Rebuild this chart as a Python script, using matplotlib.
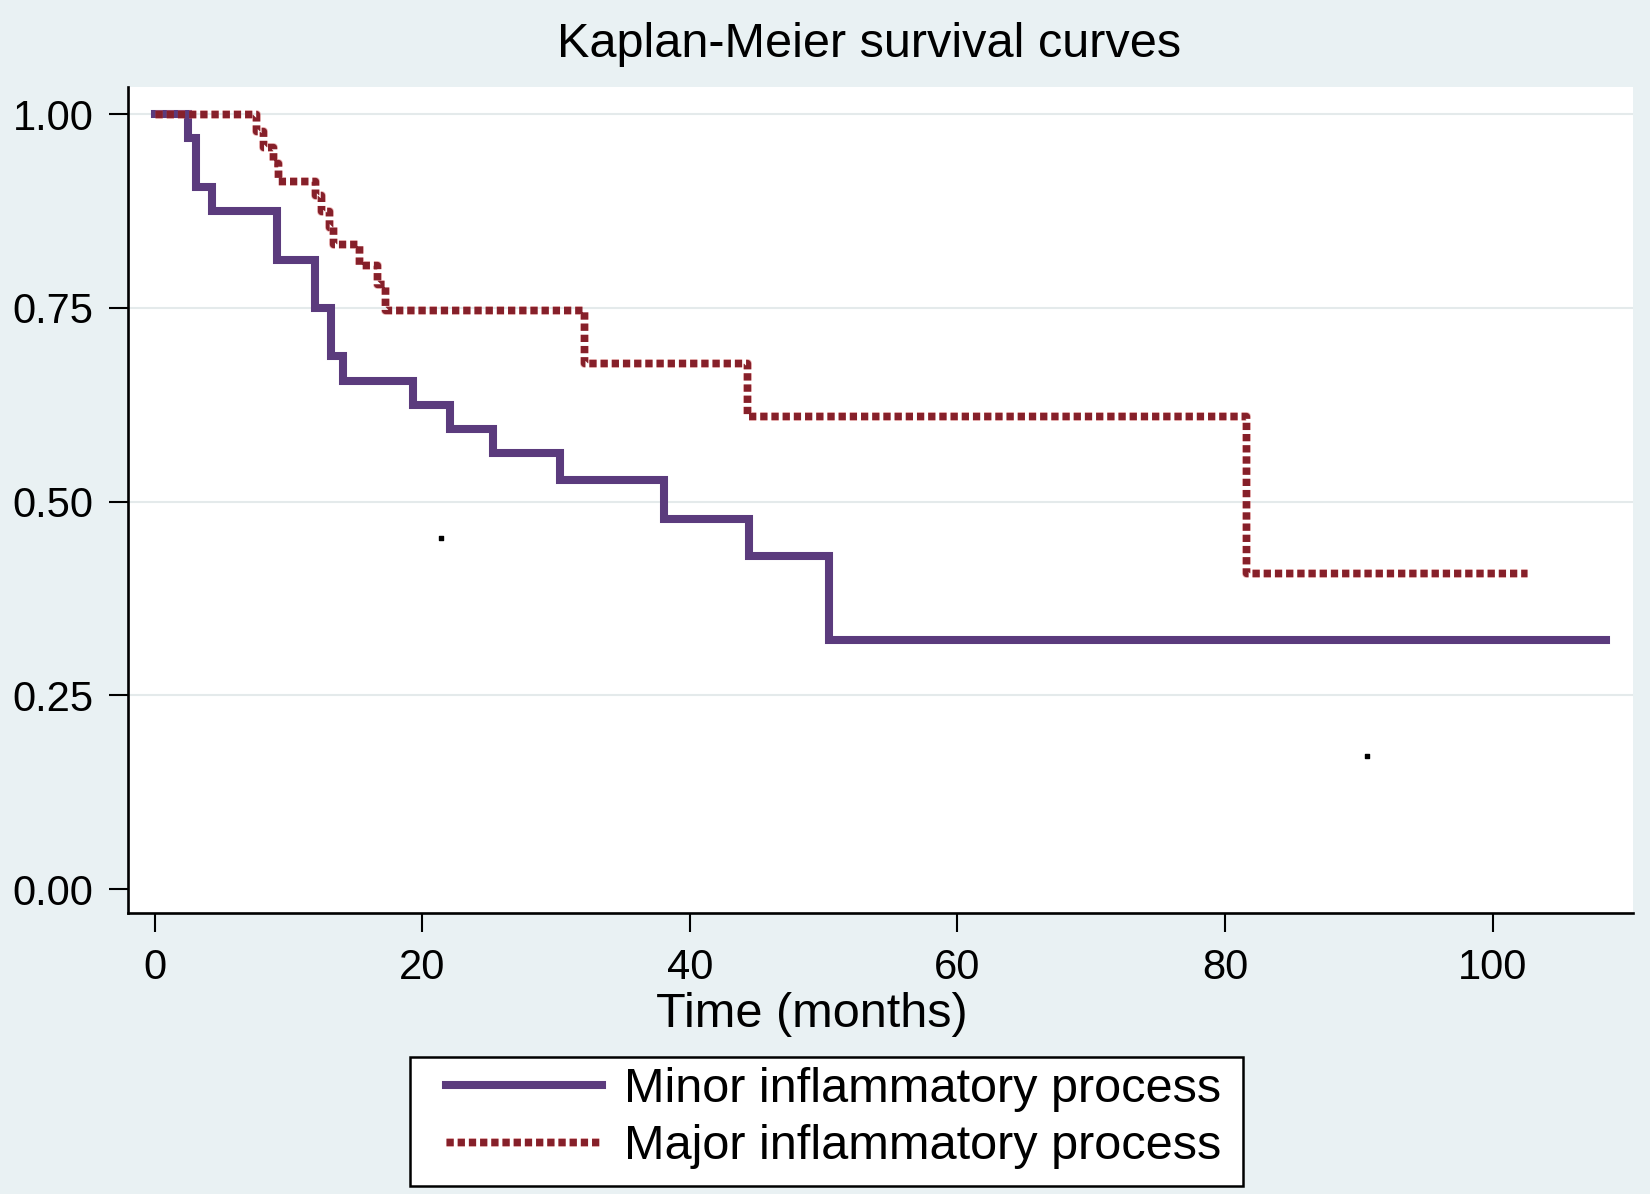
import matplotlib
matplotlib.use("Agg")
import matplotlib.pyplot as plt
import matplotlib.patheffects as pe
from matplotlib.patches import Rectangle

# Kaplan-Meier step data
minor_t = [0, 2.5, 3.1, 4.3, 9.1, 12.0, 13.2, 14.1, 19.3, 22.1, 25.3, 30.3, 38.1, 44.4, 50.4, 108.5]
minor_s = [1.0, 0.969, 0.906, 0.875, 0.8125, 0.75, 0.6875, 0.656, 0.625, 0.594, 0.5625, 0.528, 0.478, 0.430, 0.322, 0.322]

major_t = [0, 7.6, 8.1, 8.8, 9.2, 12.0, 12.4, 13.0, 13.3, 15.3, 16.6, 17.2, 32.1, 44.3, 81.6, 102.6]
major_s = [1.0, 0.979, 0.958, 0.937, 0.914, 0.896, 0.875, 0.854, 0.833, 0.806, 0.781, 0.747, 0.679, 0.611, 0.408, 0.408]

stray_x = [21.4, 90.6]
stray_y = [0.453, 0.172]

labels = ["Minor inflammatory process", "Major inflammatory process"]
xticks = [0, 20, 40, 60, 80, 100]
yticks = [0.0, 0.25, 0.5, 0.75, 1.0]

bg = "#e9f1f3"
purple = "#5b3b7d"
red = "#86202a"

plt.rcParams["font.family"] = ["Liberation Sans", "DejaVu Sans"]

fig = plt.figure(figsize=(16.5, 11.94), dpi=100, facecolor=bg)
ax = fig.add_axes([0.0776, 0.2353, 0.9121, 0.6917])
ax.set_facecolor("white")

for y in yticks[1:]:
    ax.axhline(y, color="#e4eaeb", lw=1.5, zorder=0)

ax.step(minor_t, minor_s, where="post", color=purple, lw=5.8, label=labels[0],
        solid_joinstyle="miter", zorder=2)
ax.step(major_t, major_s, where="post", color=red, lw=5.2, label=labels[1],
        linestyle=(0, (1.0, 0.55)), dash_capstyle="butt", zorder=3,
        path_effects=[pe.Stroke(linewidth=6.4, foreground="#d86a6a", alpha=0.5), pe.Normal()])
ax.scatter(stray_x, stray_y, s=6, marker="s", color="black", zorder=4)

ax.set_xlim(-2.0, 110.5)
ax.set_ylim(-0.031, 1.035)
ax.set_xticks(xticks)
ax.set_yticks(yticks)
ax.set_yticklabels([f"{v:.2f}" for v in yticks])

for side in ["top", "right"]:
    ax.spines[side].set_visible(False)
for side in ["left", "bottom"]:
    ax.spines[side].set_linewidth(1.9)
ax.tick_params(axis="both", length=14, width=1.5, labelsize=30, pad=11)

fig.text(0.527, 0.963, "Kaplan-Meier survival curves", ha="center", va="center", fontsize=35)
fig.text(0.492, 0.15, "Time (months)", ha="center", va="center", fontsize=35)

# legend box drawn separately so its padding can match the original
fig.patches.append(Rectangle((0.2485, 0.0067), 0.5048, 0.108, transform=fig.transFigure,
                             facecolor="white", edgecolor="black", lw=1.8, zorder=1))
leg = fig.legend(loc="upper left", bbox_to_anchor=(0.2705, 0.1062), fontsize=35,
                 handlelength=3.2, handletextpad=0.45, labelspacing=0.25,
                 borderpad=0, borderaxespad=0, frameon=False)

fig.savefig("out.png", dpi=100, facecolor=bg)
